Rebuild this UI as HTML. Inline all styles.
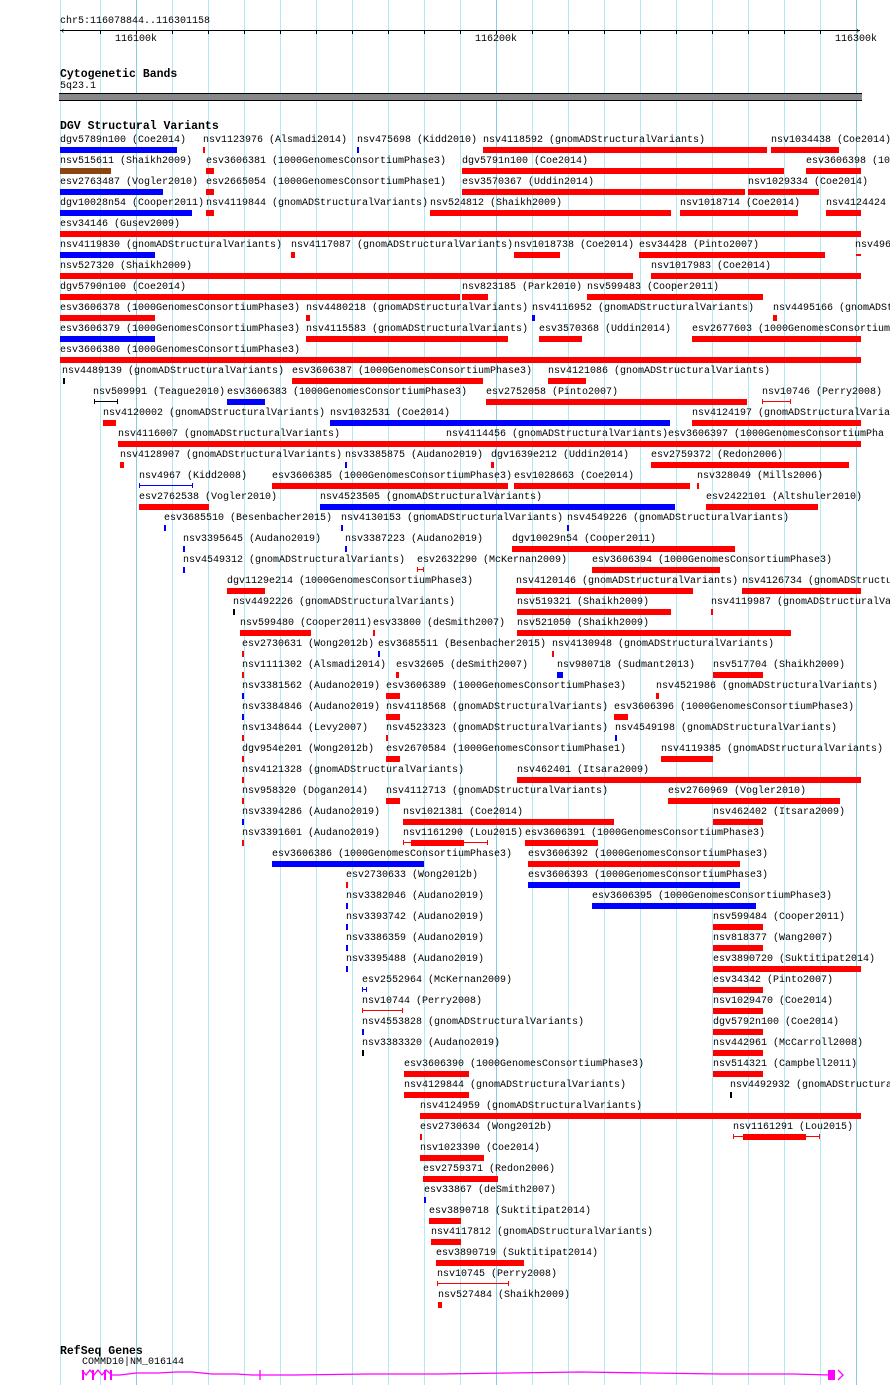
<!DOCTYPE html>
<html><head><meta charset="utf-8"><style>
*{margin:0;padding:0}
body{width:890px;height:1385px;position:relative;background:#fff;overflow:hidden;font-family:"Liberation Mono",monospace;font-size:10px;color:#000}
.g{position:absolute;top:0;width:1px;height:1385px;background:#b0eaf2}
.gd{background:#88cce8}
.r{position:absolute;left:0;top:0;width:890px;height:21px}
.r span{position:absolute;top:0;line-height:12px;white-space:nowrap}
.r i{position:absolute;top:12px;height:6px}
.R{background:#f00}.B{background:#00f}.N{background:#8b4513}.K{background:#000}
.r i.t{top:12px;height:5px;box-sizing:border-box}
.tR{border-left:1px solid #f00;border-right:1px solid #f00;background:linear-gradient(#f00,#f00) center/100% 1px no-repeat}
.tB{border-left:1px solid #00f;border-right:1px solid #00f;background:linear-gradient(#00f,#00f) center/100% 1px no-repeat}
.tK{border-left:1px solid #000;border-right:1px solid #000;background:linear-gradient(#000,#000) center/100% 1px no-repeat}
.h{position:absolute;font-weight:bold;font-size:11.5px;left:60px}
.a{position:absolute}
</style></head><body>
<div class="g" style="left:60px"></div><div class="g" style="left:100px"></div><div class="g gd" style="left:136px"></div><div class="g" style="left:172px"></div><div class="g" style="left:208px"></div><div class="g" style="left:244px"></div><div class="g" style="left:280px"></div><div class="g" style="left:316px"></div><div class="g" style="left:352px"></div><div class="g" style="left:388px"></div><div class="g" style="left:424px"></div><div class="g" style="left:460px"></div><div class="g gd" style="left:496px"></div><div class="g" style="left:532px"></div><div class="g" style="left:568px"></div><div class="g" style="left:604px"></div><div class="g" style="left:640px"></div><div class="g" style="left:676px"></div><div class="g" style="left:712px"></div><div class="g" style="left:748px"></div><div class="g" style="left:784px"></div><div class="g" style="left:820px"></div><div class="g gd" style="left:856px"></div>

<div class="a" style="left:60px;top:16px">chr5:116078844..116301158</div>
<div class="a" style="left:60px;top:30px;width:800px;height:1px;background:#000"></div>
<div class="a" style="left:60px;top:27px;font-size:9px;line-height:8px">&lsaquo;</div>
<div class="a" style="left:855px;top:27px;font-size:9px;line-height:8px">&rsaquo;</div>
<div class="a" style="left:100px;top:30px;width:1px;height:4px;background:#000"></div><div class="a" style="left:136px;top:30px;width:1px;height:4px;background:#000"></div><div class="a" style="left:172px;top:30px;width:1px;height:4px;background:#000"></div><div class="a" style="left:208px;top:30px;width:1px;height:4px;background:#000"></div><div class="a" style="left:244px;top:30px;width:1px;height:4px;background:#000"></div><div class="a" style="left:280px;top:30px;width:1px;height:4px;background:#000"></div><div class="a" style="left:316px;top:30px;width:1px;height:4px;background:#000"></div><div class="a" style="left:352px;top:30px;width:1px;height:4px;background:#000"></div><div class="a" style="left:388px;top:30px;width:1px;height:4px;background:#000"></div><div class="a" style="left:424px;top:30px;width:1px;height:4px;background:#000"></div><div class="a" style="left:460px;top:30px;width:1px;height:4px;background:#000"></div><div class="a" style="left:496px;top:30px;width:1px;height:4px;background:#000"></div><div class="a" style="left:532px;top:30px;width:1px;height:4px;background:#000"></div><div class="a" style="left:568px;top:30px;width:1px;height:4px;background:#000"></div><div class="a" style="left:604px;top:30px;width:1px;height:4px;background:#000"></div><div class="a" style="left:640px;top:30px;width:1px;height:4px;background:#000"></div><div class="a" style="left:676px;top:30px;width:1px;height:4px;background:#000"></div><div class="a" style="left:712px;top:30px;width:1px;height:4px;background:#000"></div><div class="a" style="left:748px;top:30px;width:1px;height:4px;background:#000"></div><div class="a" style="left:784px;top:30px;width:1px;height:4px;background:#000"></div><div class="a" style="left:820px;top:30px;width:1px;height:4px;background:#000"></div>
<div class="a" style="left:115px;top:34px">116100k</div>
<div class="a" style="left:475px;top:34px">116200k</div>
<div class="a" style="left:835px;top:34px">116300k</div>

<div class="h" style="top:68px">Cytogenetic Bands</div>
<div class="a" style="left:60px;top:81px">5q23.1</div>
<div class="a" style="left:59px;top:93px;width:803px;height:8px;background:#888;border-top:1px solid #000;border-bottom:1px solid #000;box-sizing:border-box"></div>

<div class="h" style="top:120px">DGV Structural Variants</div>

<div class="r" style="top:135px"><span style="left:60px">dgv5789n100 (Coe2014)</span><i class="B" style="left:60px;width:117px"></i><span style="left:203px">nsv1123976 (Alsmadi2014)</span><i class="R" style="left:203px;width:2px"></i><span style="left:357px">nsv475698 (Kidd2010)</span><i class="B" style="left:357px;width:2px"></i><span style="left:483px">nsv4118592 (gnomADStructuralVariants)</span><i class="R" style="left:483px;width:284px"></i><span style="left:771px">nsv1034438 (Coe2014)</span><i class="R" style="left:771px;width:68px"></i></div>
<div class="r" style="top:156px"><span style="left:60px">nsv515611 (Shaikh2009)</span><i class="N" style="left:60px;width:51px"></i><span style="left:206px">esv3606381 (1000GenomesConsortiumPhase3)</span><i class="R" style="left:206px;width:8px"></i><span style="left:462px">dgv5791n100 (Coe2014)</span><i class="R" style="left:462px;width:322px"></i><span style="left:806px">esv3606398 (1000</span><i class="R" style="left:806px;width:55px"></i></div>
<div class="r" style="top:177px"><span style="left:60px">esv2763487 (Vogler2010)</span><i class="B" style="left:60px;width:103px"></i><span style="left:206px">esv2665054 (1000GenomesConsortiumPhase1)</span><i class="R" style="left:206px;width:8px"></i><span style="left:462px">esv3570367 (Uddin2014)</span><i class="R" style="left:462px;width:283px"></i><span style="left:748px">nsv1029334 (Coe2014)</span><i class="R" style="left:748px;width:71px"></i></div>
<div class="r" style="top:198px"><span style="left:60px">dgv10028n54 (Cooper2011)</span><i class="B" style="left:60px;width:132px"></i><span style="left:206px">nsv4119844 (gnomADStructuralVariants)</span><i class="R" style="left:206px;width:8px"></i><span style="left:430px">nsv524812 (Shaikh2009)</span><i class="R" style="left:430px;width:241px"></i><span style="left:680px">nsv1018714 (Coe2014)</span><i class="R" style="left:680px;width:118px"></i><span style="left:826px">nsv4124424</span><i class="R" style="left:826px;width:35px"></i></div>
<div class="r" style="top:219px"><span style="left:60px">esv34146 (Gusev2009)</span><i class="R" style="left:60px;width:801px"></i></div>
<div class="r" style="top:240px"><span style="left:60px">nsv4119830 (gnomADStructuralVariants)</span><i class="B" style="left:60px;width:95px"></i><span style="left:291px">nsv4117087 (gnomADStructuralVariants)</span><i class="R" style="left:291px;width:4px"></i><span style="left:514px">nsv1018738 (Coe2014)</span><i class="R" style="left:514px;width:46px"></i><span style="left:639px">esv34428 (Pinto2007)</span><i class="R" style="left:639px;width:186px"></i><span style="left:855px">nsv496</span><i class="R" style="left:856px;width:5px;height:2px;top:14px"></i></div>
<div class="r" style="top:261px"><span style="left:60px">nsv527320 (Shaikh2009)</span><i class="R" style="left:60px;width:573px"></i><span style="left:651px">nsv1017983 (Coe2014)</span><i class="R" style="left:651px;width:210px"></i></div>
<div class="r" style="top:282px"><span style="left:60px">dgv5790n100 (Coe2014)</span><i class="R" style="left:60px;width:400px"></i><span style="left:462px">nsv823185 (Park2010)</span><i class="R" style="left:462px;width:26px"></i><span style="left:587px">nsv599483 (Cooper2011)</span><i class="R" style="left:587px;width:176px"></i></div>
<div class="r" style="top:303px"><span style="left:60px">esv3606378 (1000GenomesConsortiumPhase3)</span><i class="R" style="left:60px;width:95px"></i><span style="left:306px">nsv4480218 (gnomADStructuralVariants)</span><i class="R" style="left:306px;width:4px"></i><span style="left:532px">nsv4116952 (gnomADStructuralVariants)</span><i class="B" style="left:532px;width:3px"></i><span style="left:773px">nsv4495166 (gnomADStru</span><i class="R" style="left:773px;width:4px"></i></div>
<div class="r" style="top:324px"><span style="left:60px">esv3606379 (1000GenomesConsortiumPhase3)</span><i class="B" style="left:60px;width:95px"></i><span style="left:306px">nsv4115583 (gnomADStructuralVariants)</span><i class="R" style="left:306px;width:202px"></i><span style="left:539px">esv3570368 (Uddin2014)</span><i class="R" style="left:539px;width:43px"></i><span style="left:692px">esv2677603 (1000GenomesConsortiumPhase3)</span><i class="R" style="left:692px;width:169px"></i></div>
<div class="r" style="top:345px"><span style="left:60px">esv3606380 (1000GenomesConsortiumPhase3)</span><i class="R" style="left:60px;width:801px"></i></div>
<div class="r" style="top:366px"><span style="left:62px">nsv4489139 (gnomADStructuralVariants)</span><i class="K" style="left:63px;width:2px"></i><span style="left:292px">esv3606387 (1000GenomesConsortiumPhase3)</span><i class="R" style="left:292px;width:191px"></i><span style="left:548px">nsv4121086 (gnomADStructuralVariants)</span><i class="R" style="left:548px;width:38px"></i></div>
<div class="r" style="top:387px"><span style="left:93px">nsv509991 (Teague2010)</span><i class="t tK" style="left:94px;width:24px"></i><span style="left:227px">esv3606383 (1000GenomesConsortiumPhase3)</span><i class="B" style="left:227px;width:38px"></i><span style="left:486px">esv2752058 (Pinto2007)</span><i class="R" style="left:486px;width:261px"></i><span style="left:762px">nsv10746 (Perry2008)</span><i class="t tR" style="left:762px;width:29px"></i></div>
<div class="r" style="top:408px"><span style="left:103px">nsv4120002 (gnomADStructuralVariants)</span><i class="R" style="left:103px;width:13px"></i><span style="left:330px">nsv1032531 (Coe2014)</span><i class="B" style="left:330px;width:340px"></i><span style="left:692px">nsv4124197 (gnomADStructuralVaria</span><i class="R" style="left:692px;width:169px"></i></div>
<div class="r" style="top:429px"><span style="left:118px">nsv4116007 (gnomADStructuralVariants)</span><i class="R" style="left:118px;width:329px"></i><span style="left:446px">nsv4114456 (gnomADStructuralVariants)</span><i class="R" style="left:446px;width:223px"></i><span style="left:668px">esv3606397 (1000GenomesConsortiumPha</span><i class="R" style="left:668px;width:193px"></i></div>
<div class="r" style="top:450px"><span style="left:120px">nsv4128907 (gnomADStructuralVariants)</span><i class="R" style="left:120px;width:4px"></i><span style="left:345px">nsv3385875 (Audano2019)</span><i class="B" style="left:345px;width:2px"></i><span style="left:491px">dgv1639e212 (Uddin2014)</span><i class="R" style="left:491px;width:3px"></i><span style="left:651px">esv2759372 (Redon2006)</span><i class="R" style="left:651px;width:198px"></i></div>
<div class="r" style="top:471px"><span style="left:139px">nsv4967 (Kidd2008)</span><i class="t tB" style="left:139px;width:54px"></i><span style="left:272px">esv3606385 (1000GenomesConsortiumPhase3)</span><i class="R" style="left:272px;width:236px"></i><span style="left:514px">esv1028663 (Coe2014)</span><i class="R" style="left:514px;width:176px"></i><span style="left:697px">nsv328049 (Mills2006)</span><i class="R" style="left:697px;width:2px"></i></div>
<div class="r" style="top:492px"><span style="left:139px">esv2762538 (Vogler2010)</span><i class="R" style="left:139px;width:70px"></i><span style="left:320px">nsv4523505 (gnomADStructuralVariants)</span><i class="B" style="left:320px;width:355px"></i><span style="left:706px">esv2422101 (Altshuler2010)</span><i class="R" style="left:706px;width:112px"></i></div>
<div class="r" style="top:513px"><span style="left:164px">esv3685510 (Besenbacher2015)</span><i class="B" style="left:164px;width:2px"></i><span style="left:341px">nsv4130153 (gnomADStructuralVariants)</span><i class="B" style="left:341px;width:2px"></i><span style="left:567px">nsv4549226 (gnomADStructuralVariants)</span><i class="B" style="left:567px;width:2px"></i></div>
<div class="r" style="top:534px"><span style="left:183px">nsv3395645 (Audano2019)</span><i class="B" style="left:183px;width:2px"></i><span style="left:345px">nsv3387223 (Audano2019)</span><i class="B" style="left:345px;width:2px"></i><span style="left:512px">dgv10029n54 (Cooper2011)</span><i class="R" style="left:512px;width:223px"></i></div>
<div class="r" style="top:555px"><span style="left:183px">nsv4549312 (gnomADStructuralVariants)</span><i class="B" style="left:183px;width:2px"></i><span style="left:417px">esv2632290 (McKernan2009)</span><i class="t tR" style="left:417px;width:7px"></i><span style="left:592px">esv3606394 (1000GenomesConsortiumPhase3)</span><i class="R" style="left:592px;width:128px"></i></div>
<div class="r" style="top:576px"><span style="left:227px">dgv1129e214 (1000GenomesConsortiumPhase3)</span><i class="R" style="left:227px;width:38px"></i><span style="left:516px">nsv4120146 (gnomADStructuralVariants)</span><i class="R" style="left:516px;width:177px"></i><span style="left:742px">nsv4126734 (gnomADStructu</span><i class="R" style="left:742px;width:119px"></i></div>
<div class="r" style="top:597px"><span style="left:233px">nsv4492226 (gnomADStructuralVariants)</span><i class="K" style="left:233px;width:2px"></i><span style="left:517px">nsv519321 (Shaikh2009)</span><i class="R" style="left:517px;width:154px"></i><span style="left:711px">nsv4119987 (gnomADStructuralVa</span><i class="R" style="left:711px;width:2px"></i></div>
<div class="r" style="top:618px"><span style="left:240px">nsv599480 (Cooper2011)</span><i class="R" style="left:240px;width:71px"></i><span style="left:373px">esv33800 (deSmith2007)</span><i class="R" style="left:373px;width:2px"></i><span style="left:517px">nsv521050 (Shaikh2009)</span><i class="R" style="left:517px;width:274px"></i></div>
<div class="r" style="top:639px"><span style="left:242px">esv2730631 (Wong2012b)</span><i class="R" style="left:242px;width:2px"></i><span style="left:378px">esv3685511 (Besenbacher2015)</span><i class="B" style="left:378px;width:2px"></i><span style="left:552px">nsv4130948 (gnomADStructuralVariants)</span><i class="R" style="left:552px;width:2px"></i></div>
<div class="r" style="top:660px"><span style="left:242px">nsv1111302 (Alsmadi2014)</span><i class="R" style="left:242px;width:2px"></i><span style="left:396px">esv32605 (deSmith2007)</span><i class="R" style="left:396px;width:3px"></i><span style="left:557px">nsv980718 (Sudmant2013)</span><i class="B" style="left:557px;width:6px"></i><span style="left:713px">nsv517704 (Shaikh2009)</span><i class="R" style="left:713px;width:50px"></i></div>
<div class="r" style="top:681px"><span style="left:242px">nsv3381562 (Audano2019)</span><i class="B" style="left:242px;width:2px"></i><span style="left:386px">esv3606389 (1000GenomesConsortiumPhase3)</span><i class="R" style="left:386px;width:14px"></i><span style="left:656px">nsv4521986 (gnomADStructuralVariants)</span><i class="R" style="left:656px;width:3px"></i></div>
<div class="r" style="top:702px"><span style="left:242px">nsv3384846 (Audano2019)</span><i class="B" style="left:242px;width:2px"></i><span style="left:386px">nsv4118568 (gnomADStructuralVariants)</span><i class="R" style="left:386px;width:14px"></i><span style="left:614px">esv3606396 (1000GenomesConsortiumPhase3)</span><i class="R" style="left:614px;width:14px"></i></div>
<div class="r" style="top:723px"><span style="left:242px">nsv1348644 (Levy2007)</span><i class="R" style="left:242px;width:2px"></i><span style="left:386px">nsv4523323 (gnomADStructuralVariants)</span><i class="R" style="left:386px;width:2px"></i><span style="left:615px">nsv4549198 (gnomADStructuralVariants)</span><i class="B" style="left:615px;width:2px"></i></div>
<div class="r" style="top:744px"><span style="left:242px">dgv954e201 (Wong2012b)</span><i class="R" style="left:242px;width:2px"></i><span style="left:386px">esv2670584 (1000GenomesConsortiumPhase1)</span><i class="R" style="left:386px;width:14px"></i><span style="left:661px">nsv4119385 (gnomADStructuralVariants)</span><i class="R" style="left:661px;width:52px"></i></div>
<div class="r" style="top:765px"><span style="left:242px">nsv4121328 (gnomADStructuralVariants)</span><i class="R" style="left:242px;width:2px"></i><span style="left:517px">nsv462401 (Itsara2009)</span><i class="R" style="left:517px;width:344px"></i></div>
<div class="r" style="top:786px"><span style="left:242px">nsv958320 (Dogan2014)</span><i class="R" style="left:242px;width:2px"></i><span style="left:386px">nsv4112713 (gnomADStructuralVariants)</span><i class="R" style="left:386px;width:14px"></i><span style="left:668px">esv2760969 (Vogler2010)</span><i class="R" style="left:668px;width:172px"></i></div>
<div class="r" style="top:807px"><span style="left:242px">nsv3394286 (Audano2019)</span><i class="B" style="left:242px;width:2px"></i><span style="left:403px">nsv1021381 (Coe2014)</span><i class="R" style="left:403px;width:211px"></i><span style="left:713px">nsv462402 (Itsara2009)</span><i class="R" style="left:713px;width:50px"></i></div>
<div class="r" style="top:828px"><span style="left:242px">nsv3391601 (Audano2019)</span><i class="R" style="left:242px;width:2px"></i><span style="left:403px">nsv1161290 (Lou2015)</span><i class="t tR" style="left:403px;width:85px"></i><i class="R" style="left:411px;width:53px"></i><span style="left:525px">esv3606391 (1000GenomesConsortiumPhase3)</span><i class="R" style="left:525px;width:73px"></i></div>
<div class="r" style="top:849px"><span style="left:272px">esv3606386 (1000GenomesConsortiumPhase3)</span><i class="B" style="left:272px;width:152px"></i><span style="left:528px">esv3606392 (1000GenomesConsortiumPhase3)</span><i class="R" style="left:528px;width:212px"></i></div>
<div class="r" style="top:870px"><span style="left:346px">esv2730633 (Wong2012b)</span><i class="R" style="left:346px;width:2px"></i><span style="left:528px">esv3606393 (1000GenomesConsortiumPhase3)</span><i class="B" style="left:528px;width:212px"></i></div>
<div class="r" style="top:891px"><span style="left:346px">nsv3382046 (Audano2019)</span><i class="B" style="left:346px;width:2px"></i><span style="left:592px">esv3606395 (1000GenomesConsortiumPhase3)</span><i class="B" style="left:592px;width:164px"></i></div>
<div class="r" style="top:912px"><span style="left:346px">nsv3393742 (Audano2019)</span><i class="B" style="left:346px;width:2px"></i><span style="left:713px">nsv599484 (Cooper2011)</span><i class="R" style="left:713px;width:50px"></i></div>
<div class="r" style="top:933px"><span style="left:346px">nsv3386359 (Audano2019)</span><i class="B" style="left:346px;width:2px"></i><span style="left:713px">nsv818377 (Wang2007)</span><i class="R" style="left:713px;width:50px"></i></div>
<div class="r" style="top:954px"><span style="left:346px">nsv3395488 (Audano2019)</span><i class="B" style="left:346px;width:2px"></i><span style="left:713px">esv3890720 (Suktitipat2014)</span><i class="R" style="left:713px;width:148px"></i></div>
<div class="r" style="top:975px"><span style="left:362px">esv2552964 (McKernan2009)</span><i class="t tB" style="left:362px;width:5px"></i><span style="left:713px">esv34342 (Pinto2007)</span><i class="R" style="left:713px;width:50px"></i></div>
<div class="r" style="top:996px"><span style="left:362px">nsv10744 (Perry2008)</span><i class="t tR" style="left:362px;width:41px"></i><span style="left:713px">nsv1029470 (Coe2014)</span><i class="R" style="left:713px;width:50px"></i></div>
<div class="r" style="top:1017px"><span style="left:362px">nsv4553828 (gnomADStructuralVariants)</span><i class="B" style="left:362px;width:2px"></i><span style="left:713px">dgv5792n100 (Coe2014)</span><i class="R" style="left:713px;width:50px"></i></div>
<div class="r" style="top:1038px"><span style="left:362px">nsv3383320 (Audano2019)</span><i class="K" style="left:362px;width:2px"></i><span style="left:713px">nsv442961 (McCarroll2008)</span><i class="R" style="left:713px;width:50px"></i></div>
<div class="r" style="top:1059px"><span style="left:404px">esv3606390 (1000GenomesConsortiumPhase3)</span><i class="R" style="left:404px;width:65px"></i><span style="left:713px">nsv514321 (Campbell2011)</span><i class="R" style="left:713px;width:50px"></i></div>
<div class="r" style="top:1080px"><span style="left:404px">nsv4129844 (gnomADStructuralVariants)</span><i class="R" style="left:404px;width:65px"></i><span style="left:730px">nsv4492932 (gnomADStructura</span><i class="K" style="left:730px;width:2px"></i></div>
<div class="r" style="top:1101px"><span style="left:420px">nsv4124959 (gnomADStructuralVariants)</span><i class="R" style="left:420px;width:441px"></i></div>
<div class="r" style="top:1122px"><span style="left:420px">esv2730634 (Wong2012b)</span><i class="R" style="left:420px;width:2px"></i><span style="left:733px">nsv1161291 (Lou2015)</span><i class="t tR" style="left:733px;width:87px"></i><i class="R" style="left:743px;width:63px"></i></div>
<div class="r" style="top:1143px"><span style="left:420px">nsv1023390 (Coe2014)</span><i class="R" style="left:420px;width:64px"></i></div>
<div class="r" style="top:1164px"><span style="left:423px">esv2759371 (Redon2006)</span><i class="R" style="left:423px;width:75px"></i></div>
<div class="r" style="top:1185px"><span style="left:424px">esv33867 (deSmith2007)</span><i class="B" style="left:424px;width:2px"></i></div>
<div class="r" style="top:1206px"><span style="left:429px">esv3890718 (Suktitipat2014)</span><i class="R" style="left:429px;width:32px"></i></div>
<div class="r" style="top:1227px"><span style="left:431px">nsv4117812 (gnomADStructuralVariants)</span><i class="R" style="left:431px;width:30px"></i></div>
<div class="r" style="top:1248px"><span style="left:436px">esv3890719 (Suktitipat2014)</span><i class="R" style="left:436px;width:88px"></i></div>
<div class="r" style="top:1269px"><span style="left:437px">nsv10745 (Perry2008)</span><i class="t tR" style="left:437px;width:72px"></i></div>
<div class="r" style="top:1290px"><span style="left:438px">nsv527484 (Shaikh2009)</span><i class="R" style="left:438px;width:4px"></i></div>

<div class="h" style="top:1345px">RefSeq Genes</div>
<div class="a" style="left:82px;top:1357px;font-size:10px">COMMD10|NM_016144</div>
<svg class="a" style="left:0;top:1365px" width="890" height="20">
<g stroke="#f0f" fill="none" stroke-width="1.3">
<polyline points="82,5 86,10 90,5 94,10 98,5 102,10 106,5 112,10 120,10 136,8 158,8 176,7 192,7 212,9 236,9 252,10 295,10 368,9 440,9 510,8 580,7 650,8 720,9 793,9 830,10"/>
<line x1="260" y1="5" x2="260" y2="15"/>
<polyline points="838,5 843,10 838,15"/>
</g>
<g fill="#f0f">
<rect x="82" y="5" width="2" height="10"/><rect x="92" y="5" width="2" height="10"/><rect x="104" y="5" width="2" height="10"/><rect x="110" y="5" width="2" height="10"/>
<rect x="828" y="5" width="7" height="10"/>
</g>
</svg>
</body></html>
